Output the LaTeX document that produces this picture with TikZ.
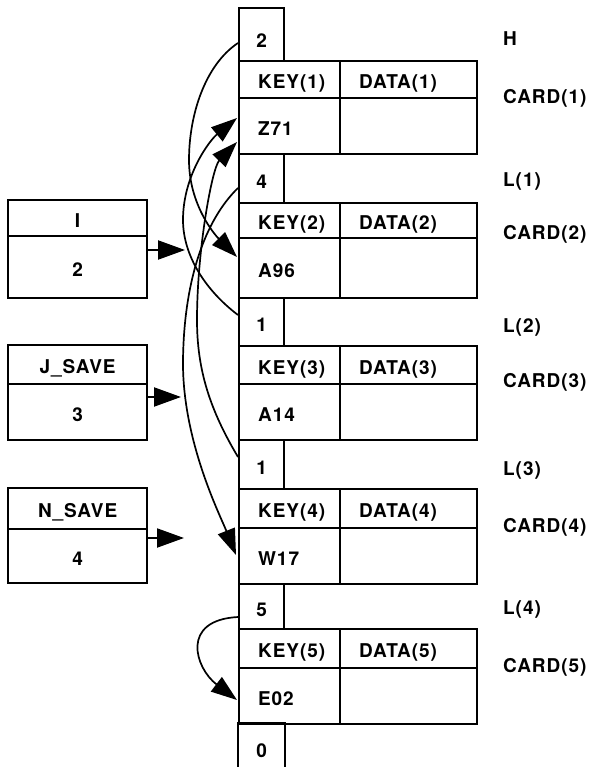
\documentclass[tikz,border=0pt]{standalone}
\usepackage{fontspec}
\setmainfont{TeX Gyre Heros}[LetterSpace=5]
\usetikzlibrary{arrows.meta,calc}
\begin{document}
\begin{tikzpicture}[x=1pt,y=-1pt,
  txt/.style={font=\fontsize{19}{20}\selectfont\bfseries},
  cellbox/.style={txt,draw,line width=2.2pt,inner sep=0pt,anchor=north west},
  lcell/.style={cellbox,minimum width=45pt,text height=19pt,text depth=0pt},
  kcell/.style={cellbox,minimum width=101pt,text width=63pt,inner xsep=19pt,align=left,text height=18.6pt,text depth=0pt},
  dcell/.style={cellbox,minimum width=137pt,text width=99pt,inner xsep=19pt,align=left,text height=18.6pt,text depth=0pt},
  sbox/.style={cellbox,minimum width=139pt,text height=18.6pt,text depth=0pt},
  lab/.style={txt,anchor=base west,inner sep=0pt},
  curve/.style={line width=1.7pt,-{Triangle[length=26pt,width=18pt]}},
  ptr/.style={line width=2pt,-{Triangle[length=27pt,width=19pt]}}]
\useasboundingbox (0,0) rectangle (595,767);
% head cell
\node[lcell,minimum height=53pt,text height=25pt] (h) at (238,7) {2};
% card 1
\node[kcell,minimum height=37pt] (k1) at (238,60) {KEY(1)};
\node[dcell,minimum height=37pt] (d1) at (339,60) {DATA(1)};
\node[kcell,minimum height=56pt] (v1) at (238,97) {Z71};
\node[dcell,minimum height=56pt] (w1) at (339,97) {};
\node[lcell,minimum height=49pt] (l1) at (238,153) {4};
% card 2
\node[kcell,minimum height=35pt] (k2) at (238,202) {KEY(2)};
\node[dcell,minimum height=35pt] (d2) at (339,202) {DATA(2)};
\node[kcell,minimum height=60pt] (v2) at (238,237) {A96};
\node[dcell,minimum height=60pt] (w2) at (339,237) {};
\node[lcell,minimum height=48pt] (l2) at (238,297) {1};
% card 3
\node[kcell,minimum height=38pt] (k3) at (238,345) {KEY(3)};
\node[dcell,minimum height=38pt] (d3) at (339,345) {DATA(3)};
\node[kcell,minimum height=56pt] (v3) at (238,383) {A14};
\node[dcell,minimum height=56pt] (w3) at (339,383) {};
\node[lcell,minimum height=49pt] (l3) at (238,439) {1};
% card 4
\node[kcell,minimum height=39pt] (k4) at (238,488) {KEY(4)};
\node[dcell,minimum height=39pt] (d4) at (339,488) {DATA(4)};
\node[kcell,minimum height=56pt] (v4) at (238,527) {W17};
\node[dcell,minimum height=56pt] (w4) at (339,527) {};
\node[lcell,minimum height=45pt] (l4) at (238,583) {5};
% card 5
\node[kcell,minimum height=39pt] (k5) at (238,628) {KEY(5)};
\node[dcell,minimum height=39pt] (d5) at (339,628) {DATA(5)};
\node[kcell,minimum height=56pt] (v5) at (238,667) {E02};
\node[dcell,minimum height=56pt] (w5) at (339,667) {};
% end cell
\node[lcell,draw=none,minimum height=48pt] (z) at (238,723) {0};
\draw[line width=2.2pt] ($(z.south west)+(0,10)$) -- (z.north west) -- (z.north east) -- ($(z.south east)+(0,10)$);
% right labels
\node[lab] (lh) at (503,46) {H};
\node[lab] (lc1) at (503,104) {CARD(1)};
\node[lab] (ll1) at (503,187) {L(1)};
\node[lab] (lc2) at (503,239) {CARD(2)};
\node[lab] (ll2) at (503,332) {L(2)};
\node[lab] (lc3) at (503,387) {CARD(3)};
\node[lab] (ll3) at (503,475) {L(3)};
\node[lab] (lc4) at (503,532) {CARD(4)};
\node[lab] (ll4) at (503,614) {L(4)};
\node[lab] (lc5) at (503,672) {CARD(5)};
% left boxes
\node[sbox,minimum height=36pt] (bi) at (7,199) {I};
\node[sbox,minimum height=62pt] (bv) at (7,235) {2};
\node[sbox,minimum height=39pt] (bj) at (7,344) {J\_SAVE};
\node[sbox,minimum height=56pt] (bjv) at (7,383) {3};
\node[sbox,minimum height=41pt] (bn) at (7,487) {N\_SAVE};
\node[sbox,minimum height=54pt] (bnv) at (7,528) {4};
\coordinate (t1) at (185,250);
\coordinate (t2) at (181,397);
\coordinate (t3) at (184,538);
\draw[ptr] ($(bv.north east)+(0,15)$) -- (t1);
\draw[ptr] ($(bjv.north east)+(0,14)$) -- (t2);
\draw[ptr] ($(bnv.north east)+(0,10)$) -- (t3);
% link curves
\draw[curve] ($(h.north west)+(0,36)$) .. controls (205,65) and (189,115) .. (189,160)
   .. controls (189,205) and (215,235) .. ($(v2.north west)+(-1,20)$);
\draw[curve] ($(l2.north west)+(0,18)$) .. controls (205,290) and (183,255) .. (183,220)
   .. controls (183,175) and (210,140) .. ($(v1.north west)+(-1,21)$);
\draw[curve] ($(l3.north west)+(0,18)$) .. controls (210,410) and (197,370) .. (197,320)
   .. controls (197,250) and (212,168) .. ($(v1.north west)+(-1,45)$);
\draw[curve] ($(l1.north west)+(0,35)$) .. controls (205,220) and (184,280) .. (183,360)
   .. controls (182,440) and (220,515) .. ($(v4.north west)+(-2,28)$);
\draw[curve] ($(l4.north west)+(0,34)$) .. controls (180,620) and (195,668) .. ($(v5.north west)+(-1,33)$);
\end{tikzpicture}
\end{document}
